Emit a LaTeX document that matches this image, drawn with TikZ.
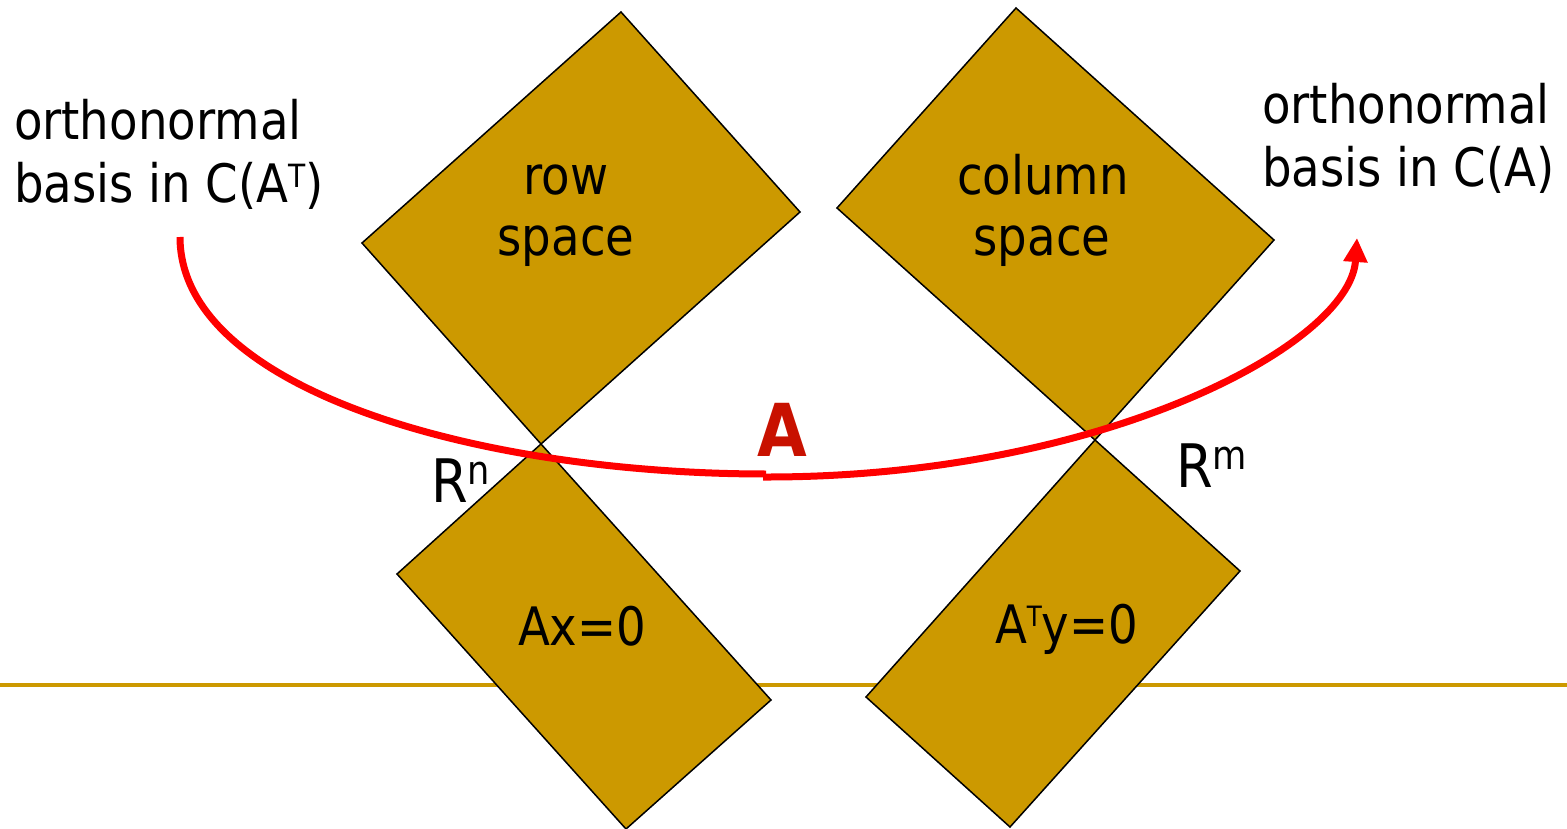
\documentclass[tikz,border=0pt]{standalone}
\usepackage{fontspec}
\setmainfont{DejaVu Sans}[FakeStretch=0.88]
\usetikzlibrary{arrows.meta}
\definecolor{gold}{RGB}{204,153,0}
\definecolor{curvered}{RGB}{255,0,0}
\definecolor{labelred}{RGB}{200,17,0}
\tikzset{
  txt/.style={inner sep=0pt, outer sep=0pt, font=\fontsize{53}{62}\selectfont, text=black},
  bigR/.style={inner sep=0pt, outer sep=0pt, font=\fontsize{60}{70}\selectfont, text=black},
  subspace/.style={fill=gold, draw=black, line width=1.5pt, line join=miter},
  mapcurve/.style={draw=curvered, line width=7pt},
  baseline rule/.style={draw=gold, line width=4pt},
}
\newcommand{\supT}[2]{\raisebox{#2pt}{\fontsize{#1}{#1}\selectfont T}}
\begin{document}
\begin{tikzpicture}[x=1pt,y=-1pt]
\useasboundingbox (0,0) rectangle (1567,829);
% horizontal rule
\coordinate (ruleL) at (0,685);
\coordinate (ruleR) at (1567,685);
\draw[baseline rule] (ruleL) -- (ruleR);
% row space
\coordinate (rsT) at (621,12);
\coordinate (rsR) at (800,212);
\coordinate (rsB) at (541,444);
\coordinate (rsL) at (362,243);
\draw[subspace] (rsT) -- (rsR) -- (rsB) -- (rsL) -- cycle;
% null space
\coordinate (nsT) at (541,444);
\coordinate (nsR) at (771,700);
\coordinate (nsB) at (626,829);
\coordinate (nsL) at (397,574);
\draw[subspace] (nsT) -- (nsR) -- (nsB) -- (nsL) -- cycle;
% column space
\coordinate (csT) at (1016,8);
\coordinate (csR) at (1274,240);
\coordinate (csB) at (1095,440);
\coordinate (csL) at (837,208);
\draw[subspace] (csT) -- (csR) -- (csB) -- (csL) -- cycle;
% left null space
\coordinate (lnT) at (1095,440);
\coordinate (lnR) at (1240,571);
\coordinate (lnB) at (1010,827);
\coordinate (lnL) at (866,697);
\draw[subspace] (lnT) -- (lnR) -- (lnB) -- (lnL) -- cycle;
% texts
\node[txt, anchor=base west] (l1) at (14,140) {orthonormal};
\node[txt, anchor=base west] (l2) at (14,203) {basis in C(A\supT{32}{15})};
\node[txt, anchor=base west] (r1) at (1262,124) {orthonormal};
\node[txt, anchor=base west] (r2) at (1262,187) {basis in C(A)};
\node[txt, anchor=base] (row1) at (566,195) {row};
\node[txt, anchor=base] (row2) at (566,256) {space};
\node[txt, anchor=base] (col1) at (1043,195) {column};
\node[txt, anchor=base] (col2) at (1042,256) {space};
\node[txt, anchor=base west] (nul) at (518,645) {Ax=0};
\node[txt, anchor=base west] (lnul) at (995,643) {A\supT{28}{17}y=0};
\node[bigR, anchor=base west] (Rn) at (431,502) {R\raisebox{18pt}{\fontsize{40}{40}\selectfont n}};
\node[bigR, anchor=base west] (Rm) at (1176,487) {R\raisebox{18pt}{\fontsize{40}{40}\selectfont m}};
% mapping curve
\coordinate (cstart) at (180,237);
\coordinate (cmid) at (766,474);
\coordinate (cmid2) at (763,477);
\coordinate (cend) at (1357,238);
\draw[mapcurve, line cap=butt] (cstart) .. controls (180,390) and (480,474) .. (cmid);
\draw[mapcurve, -{Triangle[length=24pt,width=23pt]}] (cmid2) .. controls (1100,478) and (1350,345) .. (cend);
\node[inner sep=0pt, anchor=base west, text=labelred, font=\fontsize{73}{80}\selectfont\bfseries] (Alabel) at (757,456) {A};
\end{tikzpicture}
\end{document}
